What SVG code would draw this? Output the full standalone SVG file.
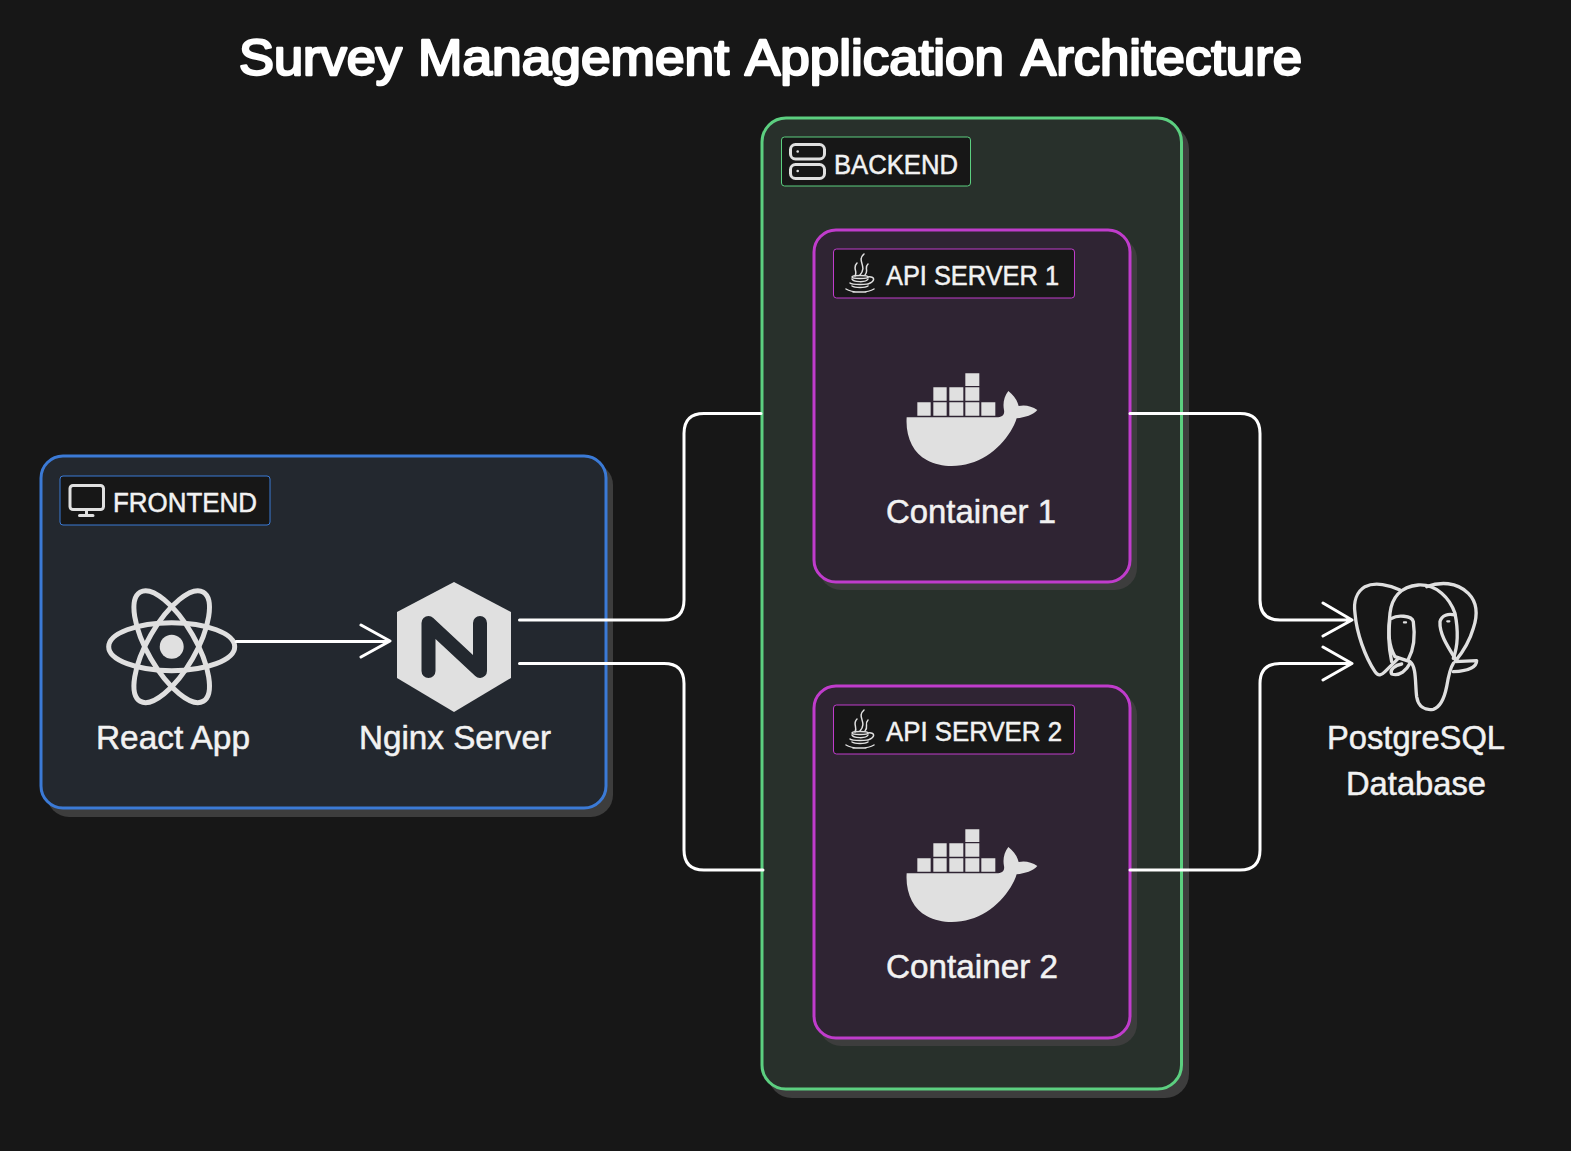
<svg xmlns="http://www.w3.org/2000/svg" width="1571" height="1151" viewBox="0 0 1571 1151">
<style>
text{font-family:"Liberation Sans",Arial,sans-serif;fill:#f2f2f2;stroke:#f2f2f2;stroke-width:.5;stroke-linejoin:round}
.title{font-size:50px;fill:#fff;stroke:#fff;stroke-width:2.4}
.name{font-size:33px}
.tag{font-size:27px}
.shadow{fill:#3d3d3d}
.fe{fill:#23282f;stroke:#3b7ad6;stroke-width:3}
.be{fill:#28302b;stroke:#5ccf80;stroke-width:3}
.api{fill:#2f2433;stroke:#c03ccc;stroke-width:3}
.tagbox{fill:#171717;stroke-width:1}
.ico{fill:none;stroke:#e0e0e0;stroke-linecap:round;stroke-linejoin:round}
.solid{fill:#e0e0e0}
.link{fill:none;stroke:#fff;stroke-width:3;stroke-linecap:round;stroke-linejoin:round}
</style>
<defs>
<g id="docker">
<path class="solid" d="M82,127h40v40h-40zM130,127h40v40h-40zM178,127h42v40h-42zM226,127h42v40h-42zM274,127h42v40h-42zM130,82h40v40h-40zM178,82h42v40h-42zM226,82h42v40h-42zM226,40h42v38h-42z"/>
<path class="solid" d="M50,172H320C335,172 345,165 342,150C338,130 342,110 355,93C370,105 382,120 386,138C405,134 425,138 442,150C430,165 405,172 380,175C365,225 310,292 240,310C200,322 150,322 110,300C70,280 46,230 50,172Z"/>
</g>
<g id="java" class="ico" stroke-width="1.500">
<path d="M864,254C856,261 868,266 860,275M868,264C864,268 869,271 865,275M857,263C852,268 858,271 855,276"/>
<ellipse cx="860" cy="277" rx="8" ry="1.500"/>
<path d="M852,279C853,282 866,283 868,279M868,277C875,276 876,281 868,284M850,283C852,285 868,285 870,283M852,286C855,288 865,288 868,286M846,289C852,293 868,293 874,289M853,292H866"/>
</g>
</defs>
<rect width="1571" height="1151" fill="#171717"/>
<text class="title" y="75"><tspan x="239" textLength="163" lengthAdjust="spacingAndGlyphs">Survey</tspan> <tspan x="418" textLength="311" lengthAdjust="spacingAndGlyphs">Management</tspan> <tspan x="745" textLength="259" lengthAdjust="spacingAndGlyphs">Application</tspan> <tspan x="1021" textLength="281" lengthAdjust="spacingAndGlyphs">Architecture</tspan></text>

<g id="frontend">
<rect class="shadow" x="47" y="463" width="566" height="354" rx="22"/>
<rect class="fe" x="41" y="456" width="565" height="352" rx="22"/>
<rect class="tagbox" x="60" y="476" width="210" height="49" rx="3" stroke="#3b7ad6"/>
<g class="ico" stroke-width="3"><rect x="70" y="485.500" width="33.500" height="24" rx="3"/><path d="M86.500,509.500V515M79.500,515.500H93"/></g>
<text class="tag" x="113" y="511.500" textLength="144" lengthAdjust="spacingAndGlyphs">FRONTEND</text>
</g>

<g id="react-app">
<g class="ico" stroke-width="5"><ellipse cx="171.700" cy="646.700" rx="63" ry="24"/><ellipse cx="171.700" cy="646.700" rx="63" ry="24" transform="rotate(60 171.700 646.700)"/><ellipse cx="171.700" cy="646.700" rx="63" ry="24" transform="rotate(-60 171.700 646.700)"/></g>
<circle class="solid" cx="171.700" cy="646.700" r="12"/>
<text class="name" x="96" y="749" textLength="154" lengthAdjust="spacingAndGlyphs">React App</text>
</g>

<g id="nginx-server">
<path class="solid" d="M454,582L511,612V678L454,712L397,678V612Z"/>
<path d="M428.500,671V623L480,671V623" fill="none" stroke="#23282f" stroke-width="14" stroke-linecap="round" stroke-linejoin="round"/>
<text class="name" x="359" y="749" textLength="192" lengthAdjust="spacingAndGlyphs">Nginx Server</text>
</g>

<g id="backend">
<rect class="shadow" x="768" y="125" width="421" height="973" rx="24"/>
<rect class="be" x="762" y="118" width="419.500" height="971" rx="24"/>
<rect class="tagbox" x="781.500" y="137" width="189" height="49" rx="3" stroke="#5ccf80"/>
<g class="ico" stroke-width="3"><rect x="790.500" y="144.500" width="34" height="14.500" rx="5"/><rect x="790.500" y="164.500" width="34" height="14" rx="5"/></g>
<circle class="solid" cx="797.700" cy="151.500" r="1.300"/><circle class="solid" cx="797.700" cy="171" r="1.300"/>
<text class="tag" x="834" y="173.500" textLength="124" lengthAdjust="spacingAndGlyphs">BACKEND</text>
</g>

<g id="api-server-1">
<rect class="shadow" x="819" y="237" width="318" height="353" rx="22"/>
<rect class="api" x="814" y="230" width="316" height="352" rx="22"/>
<rect class="tagbox" x="833.500" y="249" width="241" height="49" rx="3" stroke="#c03ccc"/>
<use href="#java"/>
<text class="tag" x="886" y="285" textLength="173" lengthAdjust="spacingAndGlyphs">API SERVER 1</text>
<use href="#docker" transform="translate(890 360) scale(.3333)"/>
<text class="name" x="886" y="522.500" textLength="170" lengthAdjust="spacingAndGlyphs">Container 1</text>
</g>

<g id="api-server-2">
<rect class="shadow" x="819" y="693" width="318" height="353" rx="22"/>
<rect class="api" x="814" y="686" width="316" height="352" rx="22"/>
<rect class="tagbox" x="833.500" y="705" width="241" height="49" rx="3" stroke="#c03ccc"/>
<use href="#java" transform="translate(0 456)"/>
<text class="tag" x="886" y="741" textLength="176" lengthAdjust="spacingAndGlyphs">API SERVER 2</text>
<use href="#docker" transform="translate(890 816) scale(.3333)"/>
<text class="name" x="886" y="978" textLength="172" lengthAdjust="spacingAndGlyphs">Container 2</text>
</g>

<g id="postgresql">
<g class="ico" stroke-width="10" transform="translate(1300 570) scale(.3333)">
<path d="M300,60C270,45 225,35 195,50C170,65 160,95 165,130C170,190 195,260 225,305C235,320 245,315 255,305L295,265"/>
<path d="M275,275C265,230 265,170 270,130C275,85 300,50 355,45C410,42 450,85 465,130C475,180 475,225 460,265"/>
<path d="M380,50C420,35 470,35 505,70C530,95 535,130 520,175C510,210 490,245 465,275L530,272C530,290 510,302 460,305"/>
<path d="M275,145C290,135 335,135 340,155C345,190 345,230 325,268M270,145C265,190 265,225 285,260L330,275C350,290 345,340 350,380C355,410 375,422 400,418C425,410 435,375 440,350C445,320 450,295 460,280"/>
<path d="M465,135C445,130 425,135 420,155C418,190 440,225 465,265"/>
<path d="M330,280C320,300 300,320 275,312C268,300 285,285 305,282"/>
<path d="M312,157h6M442,154h6" stroke-width="7"/>
</g>
<text class="name" x="1327" y="749" textLength="178" lengthAdjust="spacingAndGlyphs">PostgreSQL</text>
<text class="name" x="1346" y="795" textLength="140" lengthAdjust="spacingAndGlyphs">Database</text>
</g>

<g id="connectors" class="link">
<path d="M236,641.500H389M361,625L390,641L361,657"/>
<path d="M519.500,620H664Q684,620 684,600V433.500Q684,413.500 704,413.500H761"/>
<path d="M519.500,663.500H664Q684,663.500 684,683.500V850Q684,870 704,870H763"/>
<path d="M1130,413.500H1240Q1260,413.500 1260,433.500V600Q1260,620 1280,620H1351M1323,603L1352,620L1323,636"/>
<path d="M1130,870H1240Q1260,870 1260,850V683.500Q1260,663.500 1280,663.500H1351M1323,647L1352,663.500L1323,680"/>
</g>
</svg>
